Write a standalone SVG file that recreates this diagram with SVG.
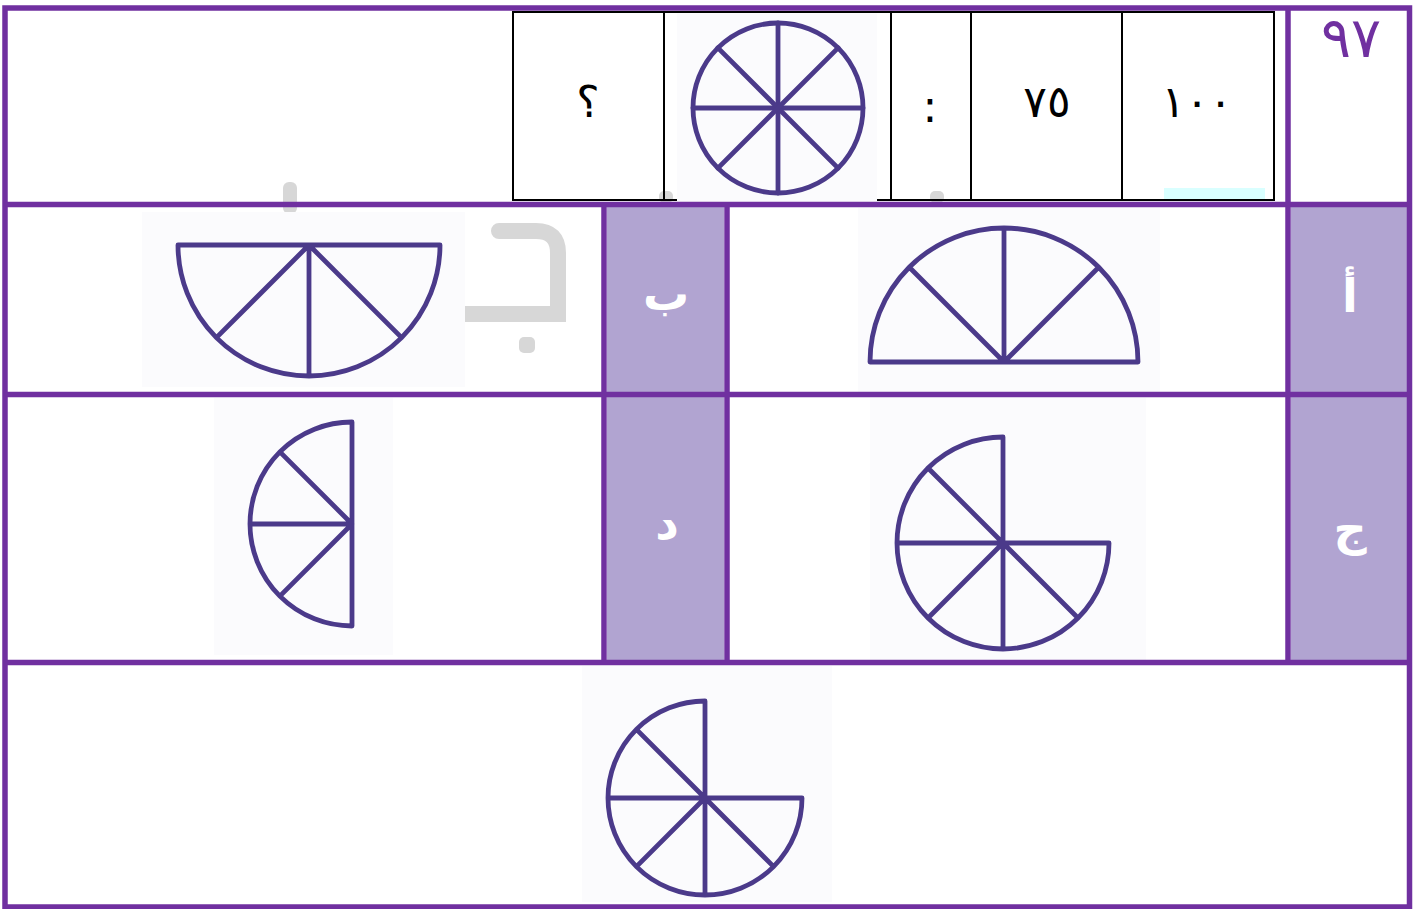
<svg xmlns="http://www.w3.org/2000/svg" width="1414" height="909" viewBox="0 0 1414 909">
<style>
.frame{fill:none;stroke:#7030A0;stroke-width:5.5}
.lab{fill:#B1A4D1}
.tbl{fill:none;stroke:#000;stroke-width:2}
.img{fill:#FBFBFD}
.fig{fill:none;stroke:#4B3A8A;stroke-width:4.8;stroke-linejoin:round;stroke-linecap:round}
.wm{fill:#D7D7D7}
.num{font-family:"DejaVu Sans",sans-serif;font-size:44px;fill:#000;text-anchor:middle}
.lt{font-family:"DejaVu Sans",sans-serif;font-size:46px;font-weight:bold;fill:#FFF;text-anchor:middle}
</style>
<rect width="1414" height="909" fill="#FFF"/>
<g id="watermark">
<rect class="wm" x="283" y="182" width="14" height="32" rx="6"/>
<rect class="wm" x="659" y="191" width="14" height="12" rx="5"/>
<rect class="wm" x="930" y="191" width="14" height="12" rx="5"/>
<path d="M 499 231 L 536 231 Q 558 231 558 253 L 558 314 L 440 314" fill="none" stroke="#D7D7D7" stroke-width="16" stroke-linecap="round"/>
<rect class="wm" x="519" y="337" width="16" height="16" rx="5"/>
</g>
<g id="labels-bg">
<rect class="lab" x="607" y="207" width="117" height="453"/>
<rect class="lab" x="1291" y="207" width="117" height="453"/>
</g>
<g id="q-row">
<rect class="tbl" x="513" y="12" width="761" height="188"/>
<line class="tbl" x1="664" y1="12" x2="664" y2="200"/>
<line class="tbl" x1="891" y1="12" x2="891" y2="200"/>
<line class="tbl" x1="971" y1="12" x2="971" y2="200"/>
<line class="tbl" x1="1122" y1="12" x2="1122" y2="200"/>
<rect x="1164" y="188" width="101" height="11" fill="#D9FFFF"/>
<text class="num" x="588" y="117">؟</text>
<rect class="img" x="677" y="13.5" width="200" height="189"/>
<g class="fig">
<circle cx="778" cy="108" r="85"/>
<line x1="693" y1="108" x2="863" y2="108"/>
<line x1="778" y1="23" x2="778" y2="193"/>
<line x1="717.9" y1="47.9" x2="838.1" y2="168.1"/>
<line x1="838.1" y1="47.9" x2="717.9" y2="168.1"/>
</g>
<text class="num" x="930" y="122" font-size="38">:</text>
<text class="num" x="1047" y="117">٧٥</text>
<text class="num" x="1197" y="117" letter-spacing="5">١٠٠</text>
<text x="1351" y="57" font-family="DejaVu Sans, sans-serif" font-size="56" fill="#7030A0" text-anchor="middle" letter-spacing="-3">٩٧</text>
</g>
<g id="option-a">
<rect class="img" x="858" y="208" width="302" height="184"/>
<path class="fig" stroke-width="5.5" d="M 870 362 A 134 134 0 0 1 1138 362 Z M 1004 362 L 1004 228 M 1004 362 L 909.3 267.3 M 1004 362 L 1098.7 267.3"/>
<text class="lt" x="1350" y="312">أ</text>
</g>
<g id="option-b">
<rect class="img" x="142" y="212" width="323" height="175"/>
<path class="fig" d="M 178 245 A 131 131 0 0 0 440 245 Z M 309 245 L 309 376 M 309 245 L 216.4 337.6 M 309 245 L 401.6 337.6"/>
<text class="lt" x="666" y="310">ب</text>
</g>
<g id="option-c">
<rect class="img" x="870" y="398" width="276" height="262"/>
<path class="fig" d="M 1003 437 A 106 106 0 1 0 1109 543 L 1003 543 Z M 1003 543 L 897 543 M 1003 543 L 1003 649 M 1003 543 L 928 468 M 1003 543 L 928 618 M 1003 543 L 1078 618"/>
<text class="lt" x="1350" y="545">ج</text>
</g>
<g id="option-d">
<rect class="img" x="214" y="398" width="179" height="257"/>
<path class="fig" d="M 352 422 A 102 102 0 0 0 352 626 Z M 352 524 L 250 524 M 352 524 L 279.9 451.9 M 352 524 L 279.9 596.1"/>
<text class="lt" x="667" y="539">د</text>
</g>
<g id="answer">
<rect class="img" x="582" y="666" width="250" height="236"/>
<path class="fig" d="M 705 701 A 97 97 0 1 0 802 798 L 705 798 Z M 705 798 L 608 798 M 705 798 L 705 895 M 705 798 L 636.4 729.4 M 705 798 L 636.4 866.6 M 705 798 L 773.6 866.6"/>
</g>
<g id="grid">
<rect class="frame" x="5" y="8" width="1404.5" height="899"/>
<line class="frame" x1="5" y1="204.5" x2="1410" y2="204.5"/>
<line class="frame" x1="5" y1="394.5" x2="1410" y2="394.5"/>
<line class="frame" x1="5" y1="662.5" x2="1410" y2="662.5"/>
<line class="frame" x1="1288" y1="8" x2="1288" y2="662.5"/>
<line class="frame" x1="604" y1="204.5" x2="604" y2="662.5"/>
<line class="frame" x1="727" y1="204.5" x2="727" y2="662.5"/>
</g>
</svg>
